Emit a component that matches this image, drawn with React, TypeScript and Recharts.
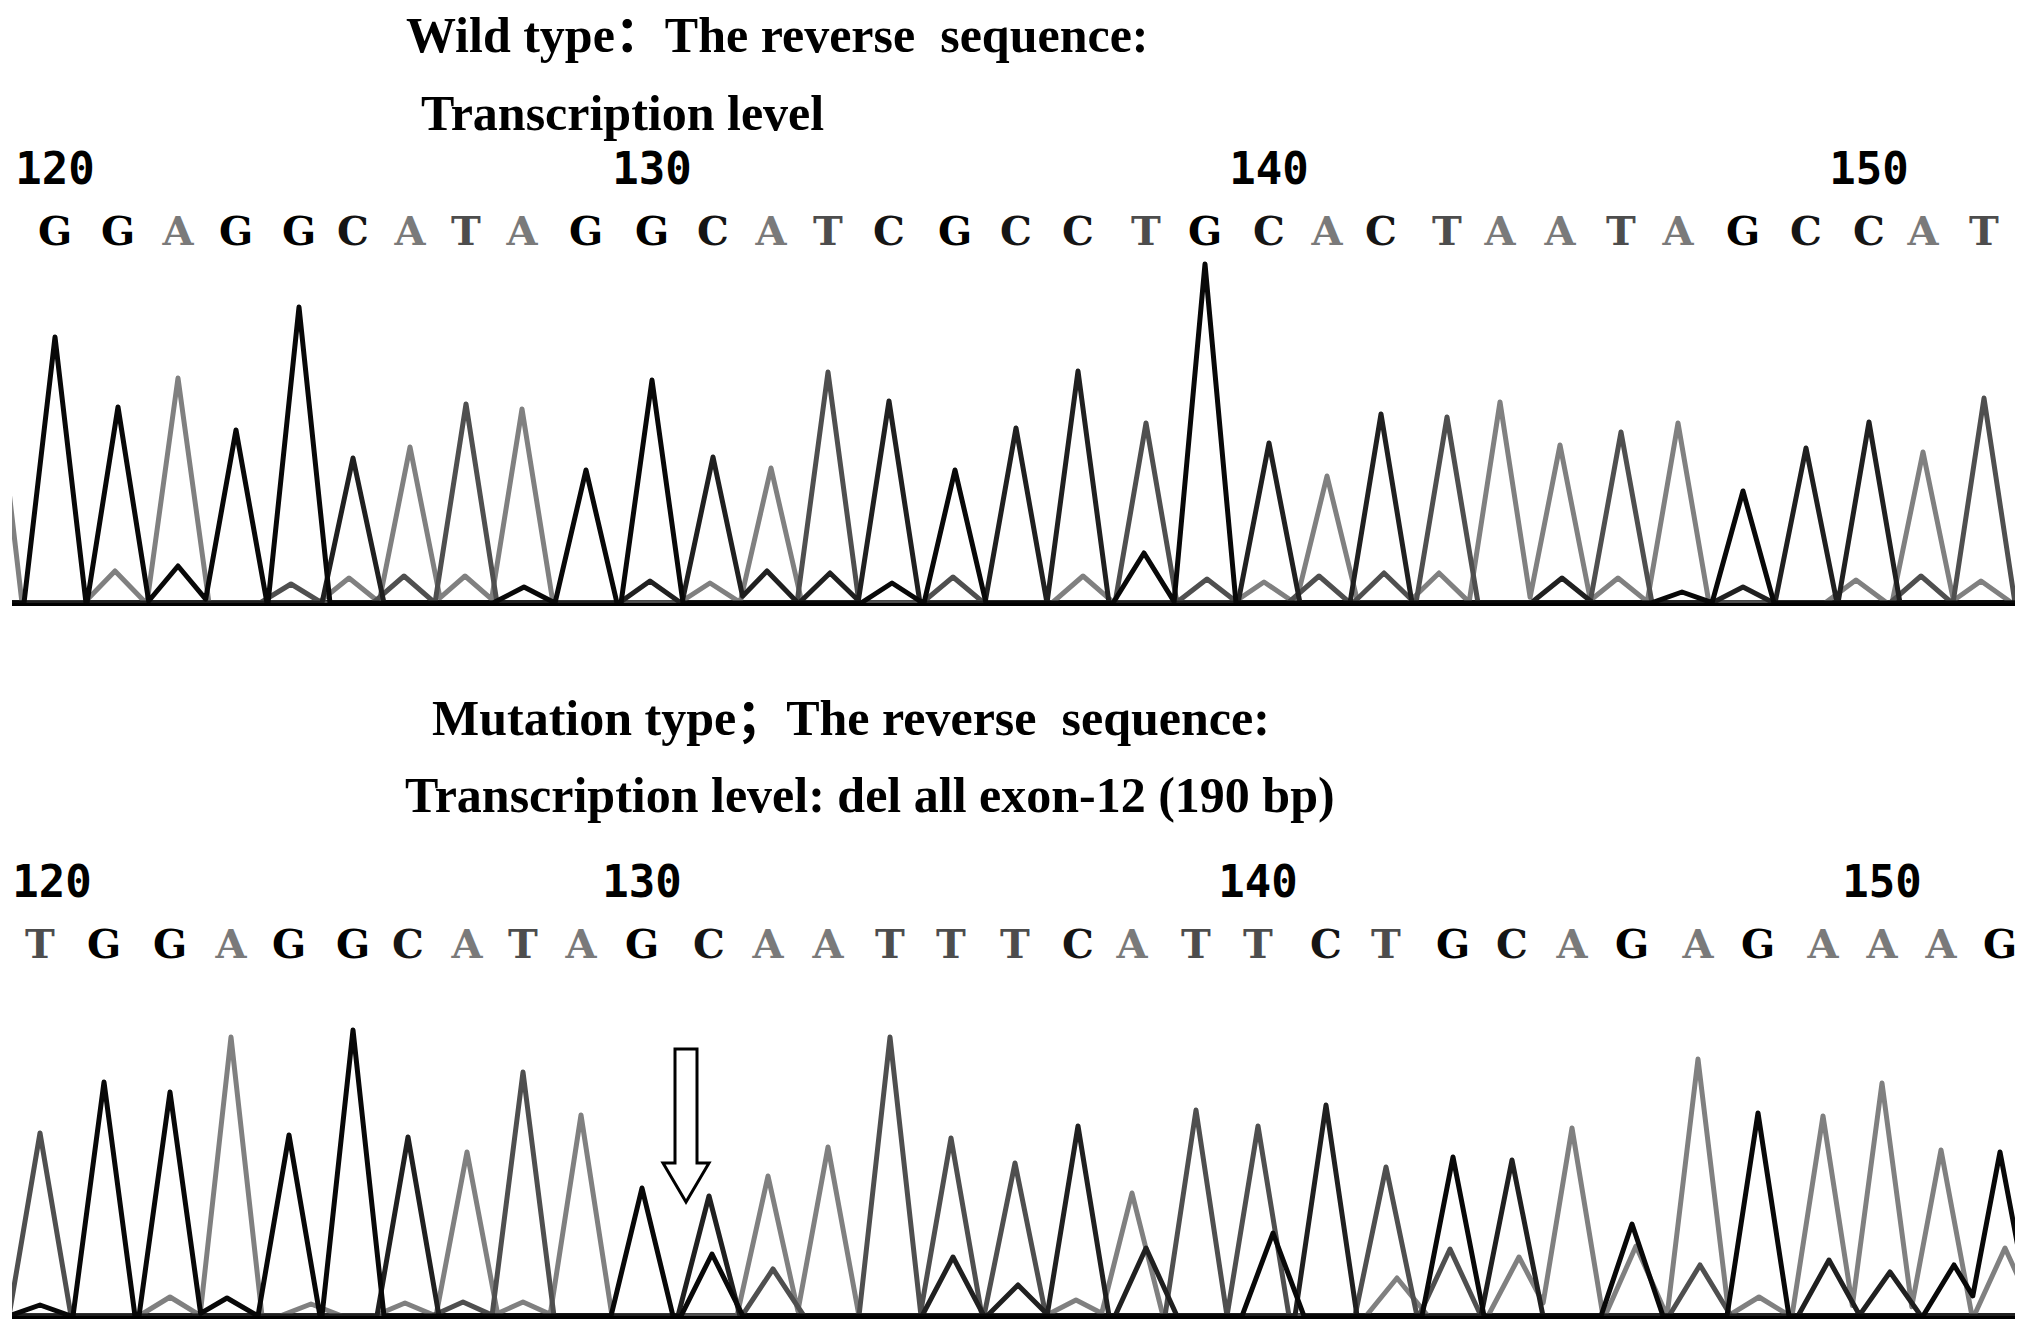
import React from 'react';
import { LineChart, Line, XAxis, YAxis, ReferenceLine, ReferenceDot } from 'recharts';

// ---------- data ----------
const FIRST_BASE = 120;
const numberedBases = [120, 130, 140, 150];
const channels = ['A', 'T', 'C', 'G'];

// Wild type trace (scan positions, peak heights)
const wtBases = 'GGAGGCATAGGCATCGCCTGCACTAATAGCCAT'.split('');
const wtScan = [55, 118, 178, 236, 299, 353, 410, 466, 522, 586, 652, 713, 771, 828, 889, 955, 1016, 1078, 1146, 1205, 1269, 1327, 1381, 1447, 1500, 1560, 1621, 1678, 1743, 1806, 1869, 1923, 1984];
const wtHeight = [798, 588, 675, 519, 888, 435, 468, 597, 582, 399, 669, 438, 405, 693, 606, 399, 525, 696, 540, 1017, 480, 381, 567, 558, 603, 474, 513, 540, 336, 465, 543, 453, 615];
const wtMinorChannel = ['A', 'G', 'T', 'A', 'T', 'A', 'G', 'C', 'A', 'C', 'C', 'G', 'T', 'A', 'G', 'T', 'A', 'T', 'T', 'A', 'C', 'A', 'G', 'C', 'A', 'T', 'A', 'A'];
const wtMinorScan = [115, 178, 291, 349, 404, 465, 524, 650, 710, 767, 830, 892, 953, 1083, 1144, 1207, 1264, 1319, 1384, 1439, 1562, 1618, 1682, 1743, 1856, 1921, 1981, -9];
const wtMinorHeight = [96, 111, 57, 75, 81, 81, 48, 66, 60, 96, 90, 60, 78, 81, 150, 72, 63, 81, 90, 90, 75, 75, 33, 48, 69, 81, 66, 800];

// Mutation type trace
const mtBases = 'TGGAGGCATAGCAATTTCATTCTGCAGAGAAAG'.split('');
const mtScan = [40, 104, 170, 231, 289, 353, 408, 467, 523, 581, 642, 709, 768, 828, 890, 951, 1015, 1078, 1132, 1196, 1258, 1326, 1386, 1453, 1512, 1572, 1632, 1698, 1758, 1823, 1882, 1941, 2000];
const mtHeight = [549, 702, 672, 837, 543, 858, 537, 492, 732, 603, 384, 360, 420, 507, 837, 534, 459, 570, 369, 618, 570, 633, 447, 477, 468, 564, 276, 771, 609, 600, 699, 498, 492];
const mtMinorChannel = ['G', 'A', 'G', 'A', 'A', 'T', 'A', 'G', 'T', 'C', 'C', 'A', 'C', 'G', 'A', 'T', 'A', 'A', 'T', 'A', 'C', 'C', 'G', 'A'];
const mtMinorScan = [40, 170, 227, 311, 405, 463, 523, 712, 773, 953, 1018, 1076, 1146, 1273, 1397, 1450, 1519, 1636, 1700, 1759, 1829, 1890, 1954, 2005];
const mtMinorHeight = [33, 57, 54, 36, 39, 42, 42, 186, 141, 177, 93, 48, 204, 249, 114, 201, 177, 210, 153, 57, 168, 132, 153, 204];

// deletion marker (arrow) in mutation trace
const arrowScan = 686;
const arrowValue = 342;

// ---------- styling ----------
const SCAN_DOMAIN: [number, number] = [12, 2015];
const VALUE_DOMAIN: [number, number] = [0, 1050];
const HALF_WIDTH = 31;
const traceColor: Record<string, string> = { A: '#808080', T: '#4f4f4f', C: '#202020', G: '#080808' };
const letterColor: Record<string, string> = { A: '#7a7a7a', T: '#4d4d4d', C: '#151515', G: '#000000' };

type Peak = { s: number; h: number };

function buildTrace(peaks: Peak[], w: number) {
  const sorted = [...peaks].sort((a, b) => a.s - b.s);
  const pts: { x: number; v: number }[] = [{ x: -500, v: 0 }];
  sorted.forEach((p, i) => {
    const prev = sorted[i - 1];
    if (prev && prev.s + w > p.s - w) {
      // overlapping neighbours: valley where the two flanks meet
      const a = prev.h;
      const b = p.h;
      const x = (a * (w + prev.s) + b * (p.s - w)) / (a + b);
      const v = a * (1 - (x - prev.s) / w);
      pts.pop();
      if (v > 0 && x > prev.s && x < p.s) pts.push({ x, v });
      else pts.push({ x: (prev.s + p.s) / 2, v: 0 });
    } else {
      pts.push({ x: p.s - w, v: 0 });
    }
    pts.push({ x: p.s, v: p.h });
    pts.push({ x: p.s + w, v: 0 });
  });
  pts.push({ x: 2600, v: 0 });
  return pts;
}

function channelTraces(bases: string[], scans: number[], heights: number[], mCh: string[], mScan: number[], mH: number[]) {
  const out: Record<string, { x: number; v: number }[]> = {};
  channels.forEach((c) => {
    const peaks: Peak[] = [];
    bases.forEach((b, i) => { if (b === c) peaks.push({ s: scans[i], h: heights[i] }); });
    mCh.forEach((b, i) => { if (b === c) peaks.push({ s: mScan[i], h: mH[i] }); });
    out[c] = buildTrace(peaks, HALF_WIDTH);
  });
  return out;
}

const letterStyle: React.CSSProperties = { fontFamily: '"DejaVu Serif", serif', fontWeight: 'bold', fontSize: 40 };
const numStyle: React.CSSProperties = { fontFamily: '"DejaVu Sans Mono", monospace', fontWeight: 'bold', fontSize: 44 };
const titleStyle: React.CSSProperties = { fontFamily: '"Liberation Serif", "Noto Sans CJK SC", serif', fontWeight: 'bold', fontSize: 50, whiteSpace: 'pre' };

function makeTick(bases: string[], scans: number[]) {
  return (props: any) => {
    const { x, y, payload } = props;
    const i = scans.indexOf(payload.value);
    if (i < 0) return <g />;
    const letter = bases[i];
    const num = FIRST_BASE + i;
    const showNum = numberedBases.includes(num);
    return (
      <g>
        <text x={x} y={y - 8} textAnchor="middle" fill={letterColor[letter]} style={letterStyle}>{letter}</text>
        {showNum && (
          <text x={Math.max(x, 52)} y={y - 69} textAnchor="middle" fill="#000" style={numStyle}>{num}</text>
        )}
      </g>
    );
  };
}

const ArrowShape = (props: any) => {
  const { cx, cy } = props;
  if (cx == null || cy == null) return <g />;
  const d = `M ${cx} ${cy} L ${cx - 23} ${cy - 39} L ${cx - 11} ${cy - 39} L ${cx - 11} ${cy - 153} L ${cx + 11} ${cy - 153} L ${cx + 11} ${cy - 39} L ${cx + 23} ${cy - 39} Z`;
  return <path d={d} fill="#fff" stroke="#000" strokeWidth={3} strokeLinejoin="miter" />;
};

function Panel(props: {
  top: number; axisHeight: number; bases: string[]; scans: number[]; heights: number[];
  mCh: string[]; mScan: number[]; mH: number[]; arrow?: boolean;
}) {
  const { top, axisHeight, bases, scans, heights, mCh, mScan, mH, arrow } = props;
  const traces = channelTraces(bases, scans, heights, mCh, mScan, mH);
  const plotHeight = 350;
  const height = axisHeight + plotHeight + 10;
  return (
    <div style={{ position: 'absolute', left: 0, top, width: 2031, height }}>
      <LineChart width={2031} height={height} margin={{ top: 0, right: 16, left: 12, bottom: 10 }}>
        <XAxis xAxisId="s" dataKey="x" type="number" domain={SCAN_DOMAIN} allowDataOverflow orientation="top"
          ticks={scans} interval={0} tick={makeTick(bases, scans)} tickLine={false} axisLine={false}
          tickSize={0} tickMargin={0} height={axisHeight} />
        <YAxis yAxisId="v" type="number" domain={VALUE_DOMAIN} allowDataOverflow hide />
        <ReferenceLine xAxisId="s" yAxisId="v" y={0} stroke="#000" strokeWidth={6} />
        {channels.map((c) => (
          <Line key={c} xAxisId="s" yAxisId="v" data={traces[c]} dataKey="v" type="linear" stroke={traceColor[c]}
            strokeWidth={5} strokeLinejoin="round" dot={false} activeDot={false} isAnimationActive={false} />
        ))}
        {arrow && (
          <ReferenceDot xAxisId="s" yAxisId="v" x={arrowScan} y={arrowValue} r={0} shape={ArrowShape} />
        )}
      </LineChart>
    </div>
  );
}

export default function App() {
  return (
    <div style={{ position: 'absolute', left: 0, top: 0, width: 2031, height: 1335, background: '#fff', overflow: 'hidden' }}>
      <svg width={2031} height={1335} style={{ position: 'absolute', left: 0, top: 0 }}>
        <text x={406} y={52} style={titleStyle} xmlSpace="preserve">Wild type：The reverse  sequence:</text>
        <text x={421} y={130} style={titleStyle} xmlSpace="preserve">Transcription level</text>
        <text x={432} y={735} style={titleStyle} xmlSpace="preserve">Mutation type；The reverse  sequence:</text>
        <text x={405} y={812} style={titleStyle} xmlSpace="preserve">Transcription level: del all exon-12 (190 bp)</text>
      </svg>
      <Panel top={140} axisHeight={113} bases={wtBases} scans={wtScan} heights={wtHeight}
        mCh={wtMinorChannel} mScan={wtMinorScan} mH={wtMinorHeight} />
      <Panel top={850} axisHeight={116} bases={mtBases} scans={mtScan} heights={mtHeight}
        mCh={mtMinorChannel} mScan={mtMinorScan} mH={mtMinorHeight} arrow />
    </div>
  );
}
